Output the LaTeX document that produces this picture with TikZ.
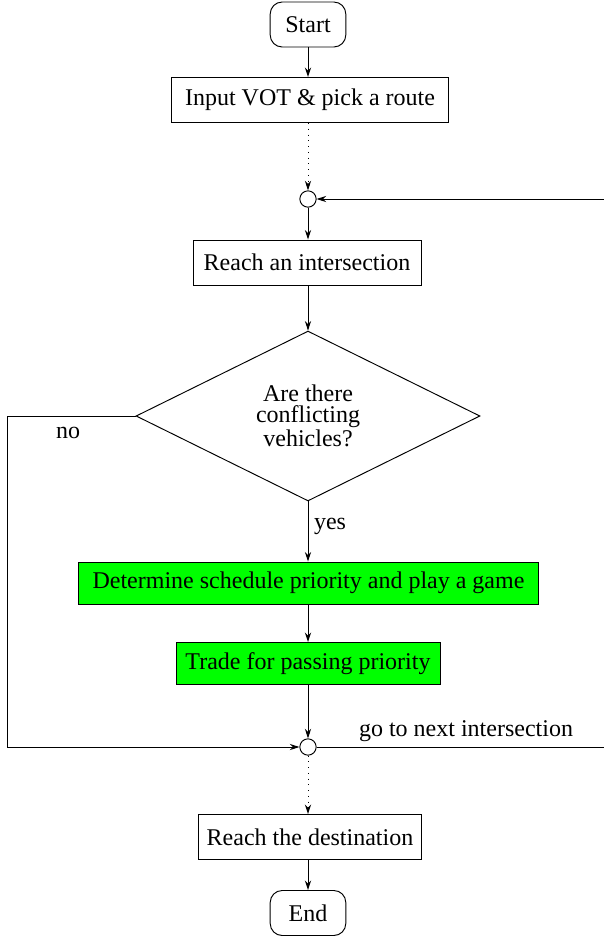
\documentclass[tikz,border=0pt]{standalone}
\usepackage{fontspec}
\setmainfont{Liberation Serif}
\usetikzlibrary{shapes.geometric,arrows.meta}
\begin{document}
\begin{tikzpicture}[x=0.41667pt,y=-0.41667pt,
  font=\fontsize{10}{12}\selectfont,
  arr/.style={-{Stealth[length=4pt,width=2.6pt]}},
  pbox/.style={draw,rectangle,minimum height=18.75pt,inner xsep=3.3pt},
  gbox/.style={draw,rectangle,fill=green,minimum height=17.5pt,inner xsep=3.3pt},
  rbox/.style={draw,rectangle,rounded corners=5pt,minimum height=18.75pt,minimum width=31.5pt},
  junc/.style={draw,circle,inner sep=0pt,minimum size=6.8pt},
  dec/.style={draw,diamond,inner sep=0pt,minimum width=143.3pt,minimum height=70.8pt,align=center,font=\fontsize{10}{8.7}\selectfont},
  lbl/.style={inner sep=0pt}]
\useasboundingbox (0,0) rectangle (604,940);
\node[rbox] (start) at (308,24.5) {Start};
\node[pbox,minimum width=115.4pt] (input) at (310,100) {Input VOT \& pick a route};
\node[junc] (j1) at (308,199) {};
\node[pbox,minimum width=95pt] (reach) at (307,262.5) {Reach an intersection};
\node[dec] (dec) at (308,416) {Are there\\conflicting\\vehicles?};
\node[gbox,minimum width=191.3pt] (det) at (308.5,583) {Determine schedule priority and play a game};
\node[gbox,minimum width=110pt] (trade) at (308,663.5) {Trade for passing priority};
\node[junc] (j2) at (308,747) {};
\node[pbox,minimum width=91pt] (dest) at (310,837) {Reach the destination};
\node[rbox] (end) at (308,913) {End};
\coordinate (rin) at (604,199);
\coordinate (nl) at (7,416);
\coordinate (nb) at (7,747);
\coordinate (rout) at (604,747);
\node[lbl] (no) at (68,433) {no};
\node[lbl] (yes) at (330,526) {yes};
\node[lbl] (next) at (466,731) {go to next intersection};
\draw[arr] (start) -- (start |- input.north);
\draw[arr,dotted] (input.south -| j1) -- (j1);
\draw[arr] (rin) -- (j1);
\draw[arr] (j1) -- (j1 |- reach.north);
\draw[arr] (reach.south -| dec) -- (dec);
\draw[arr] (dec) -- (dec |- det.north);
\draw[arr] (det.south -| trade) -- (trade);
\draw[arr] (trade) -- (j2);
\draw[arr] (dec.west) -- (nl) -- (nb) -- (j2);
\draw (j2) -- (rout);
\draw[arr,dotted] (j2) -- (j2 |- dest.north);
\draw[arr] (dest.south -| end) -- (end);
\end{tikzpicture}
\end{document}
